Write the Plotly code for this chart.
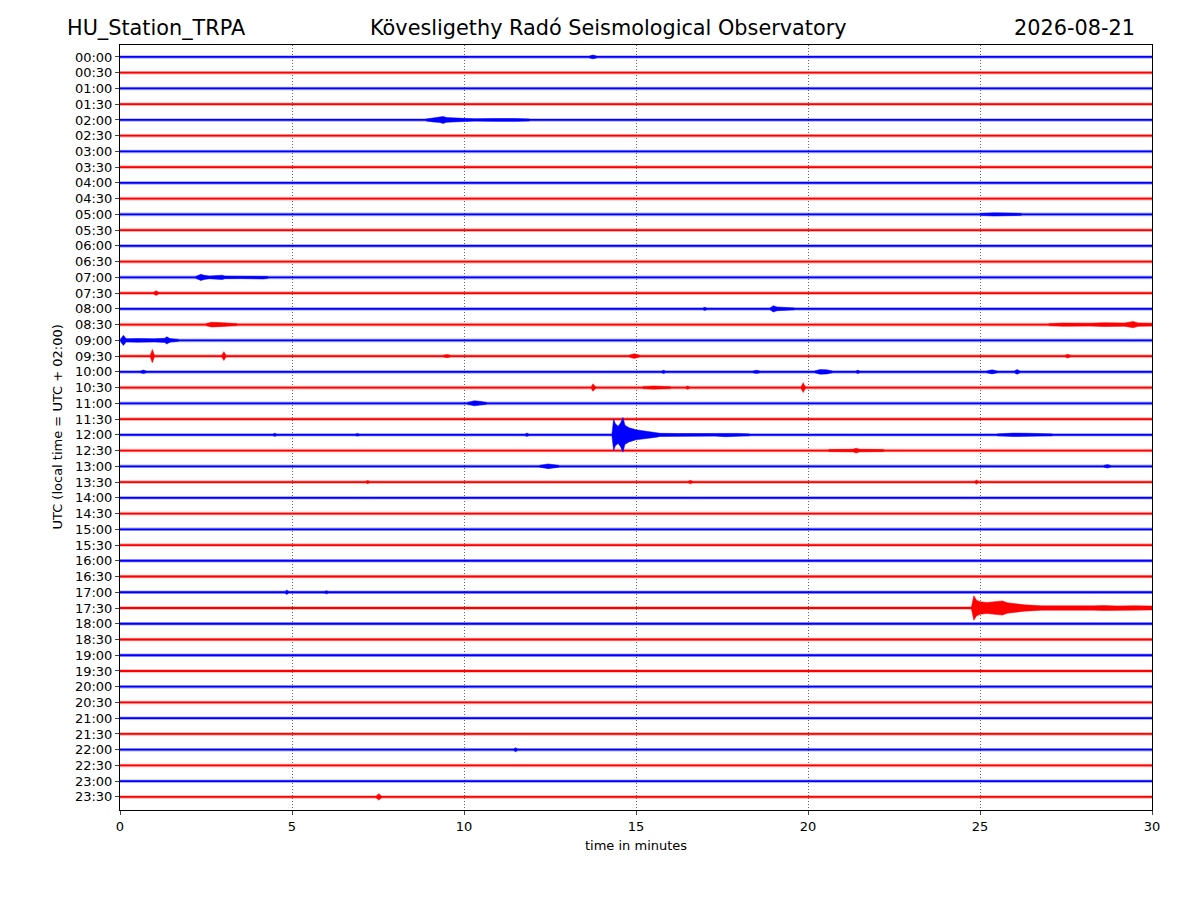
import plotly.graph_objects as go

# Helicorder rows: one every 30 minutes, 00:00 .. 23:30 (UTC)
row_labels = [f"{h:02d}:{m:02d}" for h in range(24) for m in (0, 30)]
row_colors = ["#0000ff", "#ff0000"]  # alternating blue / red rows

x_ticks = [0, 5, 10, 15, 20, 25, 30]

# Events: row index, times (minutes), envelope half-amplitude (row units)
event_rows = [0, 4, 10, 14, 15, 16, 16, 17, 17, 18,
              19, 19, 19, 19, 19,
              20, 20, 20, 20, 20, 20, 20,
              21, 21, 21, 21, 22,
              24, 24, 24, 24, 24,
              25, 26, 26, 27, 27, 27,
              34, 34, 35, 44, 47]
event_times = [
    [13.65, 13.75, 13.85],
    [8.9, 9.1, 9.3, 9.39, 9.5, 9.7, 9.97, 10.3, 10.9, 11.2, 11.5, 11.9],
    [25.0, 25.4, 25.8, 26.2],
    [2.2, 2.35, 2.45, 2.6, 2.97, 3.05, 3.5, 4.16, 4.3],
    [0.98, 1.05, 1.12],
    [18.9, 18.99, 19.1, 19.35, 19.6],
    [16.95, 17.0, 17.05],
    [2.5, 2.65, 2.9, 3.2, 3.4],
    [27.0, 27.4, 28.2, 28.6, 29.2, 29.45, 29.6, 30.0],
    [0.02, 0.1, 0.18, 0.5, 1.0, 1.3, 1.36, 1.45, 1.7],
    [0.88, 0.94, 1.0],
    [2.96, 3.02, 3.08],
    [9.4, 9.5, 9.6],
    [14.8, 14.95, 15.1],
    [27.48, 27.55, 27.62],
    [0.6, 0.68, 0.76],
    [15.75, 15.8, 15.85],
    [18.4, 18.5, 18.6],
    [20.2, 20.35, 20.55, 20.7],
    [21.4, 21.45, 21.5],
    [25.2, 25.35, 25.5],
    [26.0, 26.08, 26.16],
    [13.7, 13.75, 13.82],
    [15.2, 15.5, 16.0],
    [16.45, 16.5, 16.55],
    [19.8, 19.86, 19.92],
    [10.1, 10.3, 10.5, 10.65],
    [14.3, 14.35, 14.4, 14.48, 14.55, 14.62, 14.68, 14.8, 15.0, 15.3, 15.6, 15.7,
     16.2, 17.3, 17.6, 17.95, 18.3],
    [25.5, 25.97, 26.4, 27.1],
    [4.45, 4.5, 4.55],
    [6.85, 6.9, 6.95],
    [11.78, 11.83, 11.88],
    [20.6, 21.3, 21.4, 21.5, 22.2],
    [12.2, 12.45, 12.75],
    [28.6, 28.7, 28.8],
    [7.15, 7.2, 7.25],
    [16.52, 16.58, 16.64],
    [24.85, 24.9, 24.95],
    [4.8, 4.85, 4.9],
    [5.95, 6.0, 6.05],
    [24.75, 24.82, 24.9, 25.0, 25.2, 25.5, 25.65, 25.8, 26.0, 26.3, 26.8, 27.5,
     27.9, 28.3, 28.6, 29.0, 29.5, 30.0],
    [11.45, 11.5, 11.55],
    [7.45, 7.52, 7.6],
]
event_amps = [
    [0.06, 0.12, 0.06],
    [0.06, 0.13, 0.16, 0.22, 0.15, 0.12, 0.09, 0.07, 0.09, 0.11, 0.09, 0.06],
    [0.06, 0.1, 0.09, 0.06],
    [0.06, 0.2, 0.13, 0.08, 0.14, 0.08, 0.07, 0.1, 0.06],
    [0.06, 0.15, 0.06],
    [0.06, 0.2, 0.12, 0.1, 0.06],
    [0.06, 0.1, 0.06],
    [0.06, 0.15, 0.13, 0.1, 0.06],
    [0.06, 0.1, 0.09, 0.12, 0.1, 0.2, 0.11, 0.09],
    [0.1, 0.32, 0.1, 0.12, 0.1, 0.13, 0.23, 0.12, 0.06],
    [0.06, 0.42, 0.06],
    [0.06, 0.28, 0.06],
    [0.05, 0.1, 0.05],
    [0.06, 0.15, 0.06],
    [0.05, 0.12, 0.05],
    [0.05, 0.11, 0.05],
    [0.05, 0.1, 0.05],
    [0.05, 0.1, 0.05],
    [0.06, 0.15, 0.13, 0.06],
    [0.05, 0.11, 0.05],
    [0.05, 0.13, 0.05],
    [0.05, 0.15, 0.05],
    [0.06, 0.24, 0.06],
    [0.06, 0.1, 0.06],
    [0.05, 0.1, 0.05],
    [0.06, 0.31, 0.06],
    [0.06, 0.16, 0.12, 0.06],
    [0.06, 1.0, 0.7, 0.55, 0.75, 1.1, 0.6, 0.45, 0.32, 0.22, 0.15, 0.1,
     0.08, 0.08, 0.12, 0.09, 0.06],
    [0.06, 0.11, 0.1, 0.06],
    [0.05, 0.1, 0.05],
    [0.05, 0.08, 0.05],
    [0.05, 0.11, 0.05],
    [0.06, 0.08, 0.15, 0.08, 0.06],
    [0.06, 0.15, 0.06],
    [0.05, 0.11, 0.05],
    [0.05, 0.1, 0.05],
    [0.05, 0.11, 0.05],
    [0.05, 0.13, 0.05],
    [0.05, 0.15, 0.05],
    [0.05, 0.1, 0.05],
    [0.06, 0.78, 0.5, 0.4, 0.35, 0.42, 0.45, 0.33, 0.27, 0.2, 0.14, 0.12,
     0.15, 0.14, 0.16, 0.13, 0.15, 0.13],
    [0.05, 0.13, 0.05],
    [0.06, 0.2, 0.06],
]

fig = go.Figure()

# quiet background trace for every row (soft fringe + solid core)
for k, color in enumerate(row_colors):
    xs, ys = [], []
    for i in range(k, len(row_labels), 2):
        xs += [0, 30, None]
        ys += [i, i, None]
    fig.add_trace(go.Scatter(x=xs, y=ys, mode="lines", line=dict(color=color, width=3.6),
                             opacity=0.3, hoverinfo="skip", showlegend=False))
    fig.add_trace(go.Scatter(x=xs, y=ys, mode="lines", line=dict(color=color, width=1.8),
                             hoverinfo="skip", showlegend=False))

# events as filled envelopes around their row
for row, ts, amps in zip(event_rows, event_times, event_amps):
    color = row_colors[row % 2]
    xs = ts + ts[::-1]
    ys = [row - a for a in amps] + [row + a for a in amps[::-1]]
    fig.add_trace(go.Scatter(x=xs, y=ys, mode="lines", fill="toself", fillcolor=color,
                             line=dict(color=color, width=0.5),
                             hoverinfo="skip", showlegend=False))

fig.update_xaxes(range=[0, 30], tickvals=x_ticks, ticks="outside", ticklen=4,
                 showline=True, linecolor="black", linewidth=1, mirror=True,
                 showgrid=True, gridcolor="#666666", gridwidth=0.8, griddash="1px,2px",
                 zeroline=False, tickfont=dict(size=13, color="black"))
fig.update_yaxes(range=[47.83, -0.76], tickvals=list(range(len(row_labels))),
                 ticktext=row_labels, ticks="outside", ticklen=4,
                 showline=True, linecolor="black", linewidth=1, mirror=True,
                 showgrid=False, zeroline=False, tickfont=dict(size=13, color="black"))

font = "DejaVu Sans"
annotations = [
    dict(text="HU_Station_TRPA", x=-0.0535, y=1.022, xanchor="left", size=20.8),
    dict(text="Kövesligethy Radó Seismological Observatory", x=0.473, y=1.022,
         xanchor="center", size=20.8),
    dict(text="2026-08-21", x=0.9855, y=1.022, xanchor="right", size=20.8),
    dict(text="time in minutes", x=0.5, y=-0.047, xanchor="center", size=13),
]
for a in annotations:
    fig.add_annotation(text=a["text"], x=a["x"], y=a["y"], xref="paper", yref="paper",
                       xanchor=a["xanchor"], yanchor="middle", showarrow=False,
                       font=dict(family=font, size=a["size"], color="black"))
fig.add_annotation(text="UTC (local time = UTC + 02:00)", x=-0.061, y=0.5,
                   xref="paper", yref="paper", textangle=-90, showarrow=False,
                   xanchor="center", yanchor="middle",
                   font=dict(family=font, size=13, color="black"))

# page body adds 8 px, so margins are shifted to keep the plot box in place
fig.update_layout(width=1200, height=900, margin=dict(l=112, r=56, t=37, b=98),
                  plot_bgcolor="white", paper_bgcolor="white",
                  font=dict(family=font, color="black"))

fig.write_html("out.html")
